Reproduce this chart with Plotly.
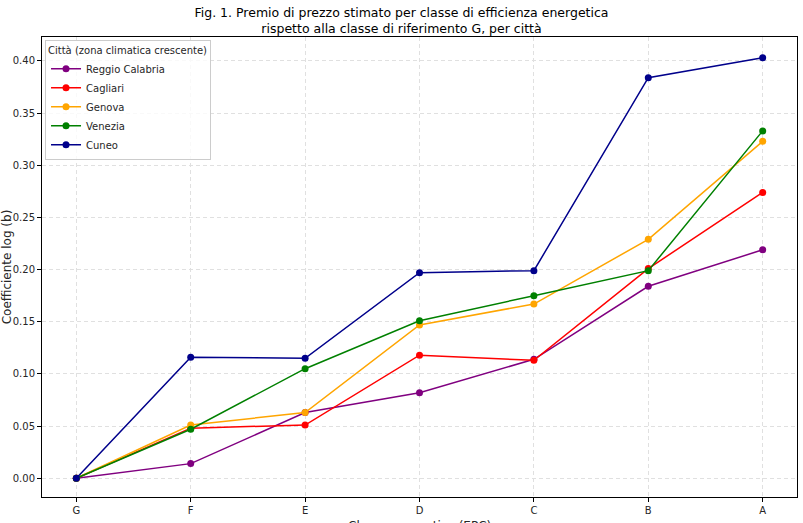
import plotly.graph_objects as go

classes = ["G", "F", "E", "D", "C", "B", "A"]
reggio = [0.0, 0.014, 0.063, 0.082, 0.114, 0.184, 0.219]
cagliari = [0.0, 0.048, 0.051, 0.118, 0.113, 0.201, 0.274]
genova = [0.0, 0.051, 0.063, 0.147, 0.167, 0.229, 0.323]
venezia = [0.0, 0.047, 0.105, 0.151, 0.175, 0.199, 0.333]
cuneo = [0.0, 0.116, 0.115, 0.197, 0.199, 0.384, 0.403]

series = [
    ("Reggio Calabria", reggio, "purple"),
    ("Cagliari", cagliari, "red"),
    ("Genova", genova, "orange"),
    ("Venezia", venezia, "green"),
    ("Cuneo", cuneo, "darkblue"),
]

xi = list(range(len(classes)))
fig = go.Figure()
for name, vals, col in series:
    fig.add_trace(go.Scatter(x=xi, y=vals, name=name, mode="lines+markers",
                             line=dict(color=col, width=1.5),
                             marker=dict(color=col, size=7)))

font = "DejaVu Sans"
fig.update_layout(
    width=803, height=523,
    margin=dict(l=42, r=6, t=37, b=26),
    paper_bgcolor="white", plot_bgcolor="white",
    font=dict(family=font, size=10, color="#262626"),
    title=dict(text="Fig. 1. Premio di prezzo stimato per classe di efficienza energetica<br>rispetto alla classe di riferimento G, per città",
               x=0.5, xanchor="center", y=1 - 17 / 523, yanchor="middle",
               font=dict(family=font, size=12.5, color="black")),
    showlegend=True,
    legend=dict(x=0.004, y=0.993, xanchor="left", yanchor="top",
                bgcolor="rgba(255,255,255,0.8)", bordercolor="#cccccc", borderwidth=1,
                title=dict(text="Città (zona climatica crescente)", font=dict(size=10, family=font)),
                font=dict(size=10, family=font), itemwidth=30, tracegroupgap=0),
    annotations=[dict(text="Classe energetica (EPC)", x=0.5, y=0, xref="paper", yref="paper",
                      xanchor="center", yanchor="top", yshift=-20, showarrow=False,
                      font=dict(size=12, family=font, color="#262626"))],
)
fig.update_xaxes(
    range=[-0.3, 6.3], tickmode="array", tickvals=xi, ticktext=classes,
    showline=True, linecolor="black", linewidth=1, mirror=True,
    ticks="outside", ticklen=4, tickcolor="black",
    showgrid=True, gridcolor="#e0e0e0", griddash="4px,3px", gridwidth=0.8,
    zeroline=False, automargin=False,
)
fig.update_yaxes(
    range=[-0.018, 0.423], tickvals=[0, 0.05, 0.1, 0.15, 0.2, 0.25, 0.3, 0.35, 0.4], tickformat=".2f",
    showline=True, linecolor="black", linewidth=1, mirror=True,
    ticks="outside", ticklen=4, tickcolor="black",
    showgrid=True, gridcolor="#e0e0e0", griddash="4px,3px", gridwidth=0.8,
    zeroline=False, automargin=False,
    title=dict(text="Coefficiente log (b)", font=dict(size=12, family=font), standoff=4),
)
fig.write_html("out.html")
